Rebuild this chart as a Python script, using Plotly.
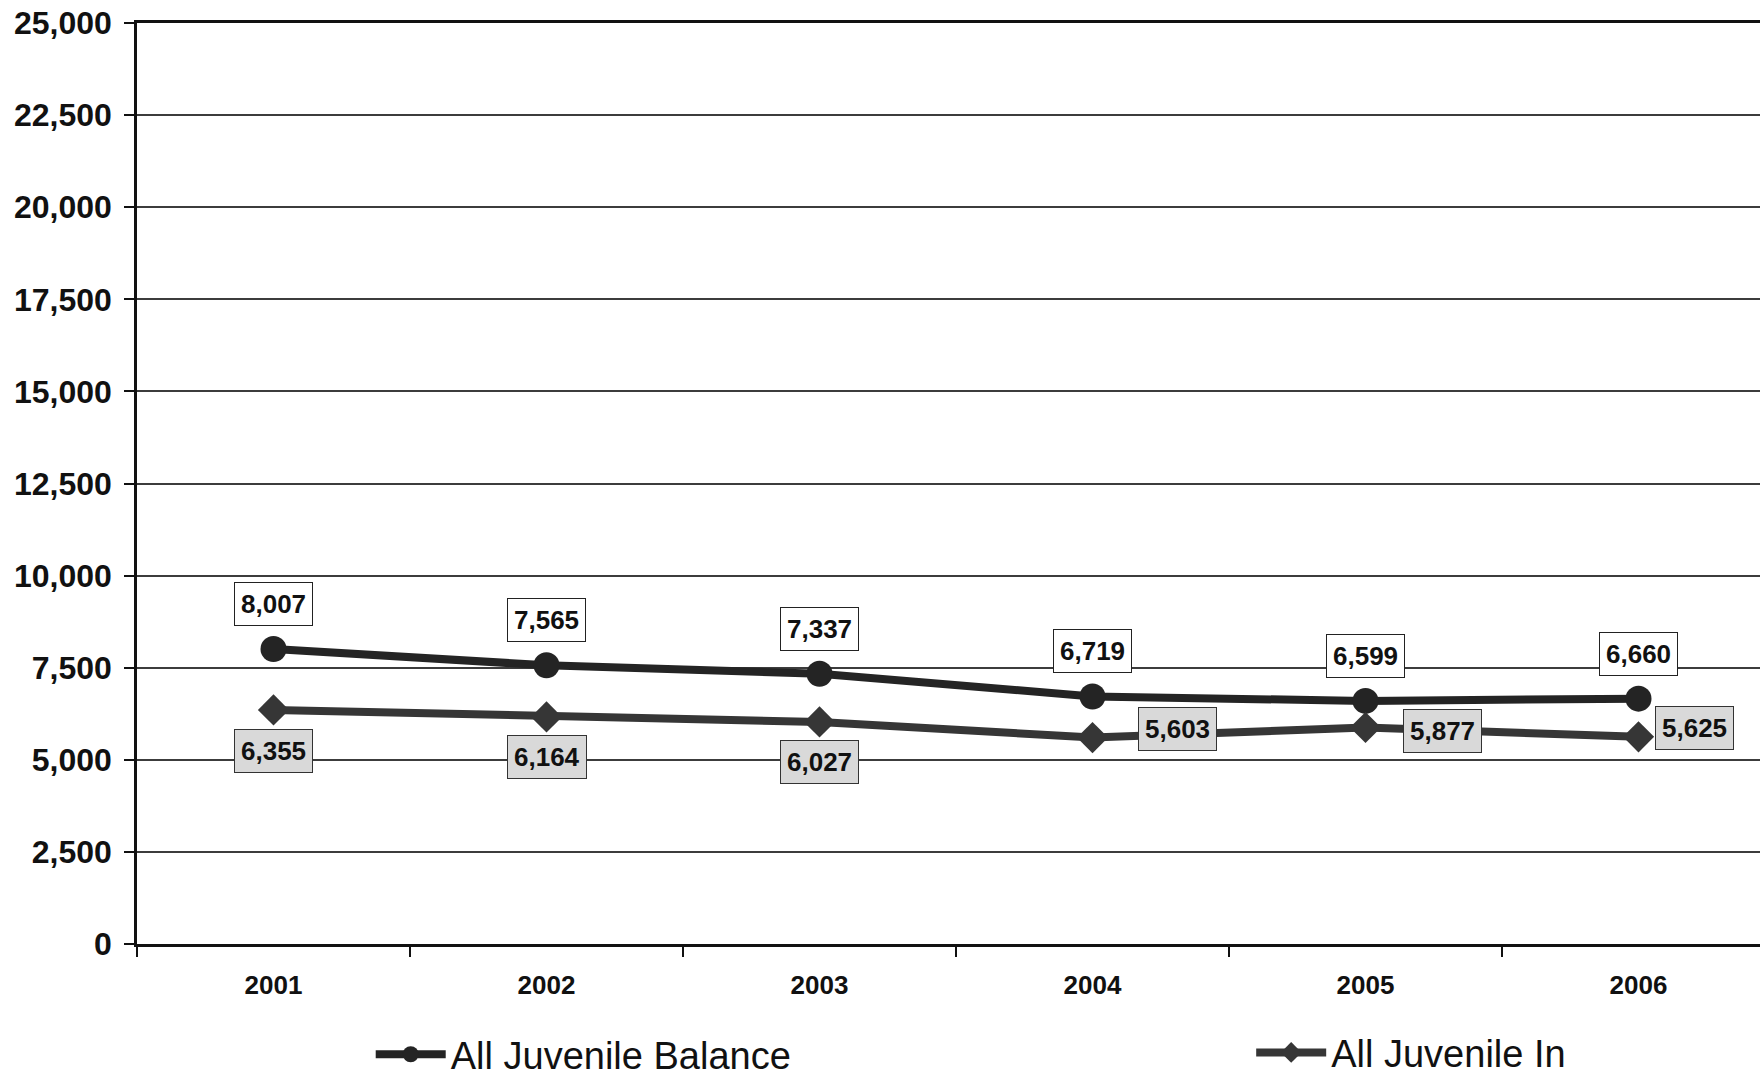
import plotly.graph_objects as go

# Yearly juvenile counts
years = ["2001", "2002", "2003", "2004", "2005", "2006"]
balance = [8007, 7565, 7337, 6719, 6599, 6660]
intake = [6355, 6164, 6027, 5603, 5877, 5625]

y_ticks = [0, 2500, 5000, 7500, 10000, 12500, 15000, 17500, 20000, 22500, 25000]

FONT = "Liberation Sans, Arial, sans-serif"
BAL_COLOR = "#242424"
IN_COLOR = "#363636"

fig = go.Figure()

fig.add_trace(go.Scatter(
    x=years, y=balance, name="All Juvenile Balance", mode="lines+markers",
    line=dict(color=BAL_COLOR, width=8),
    marker=dict(symbol="circle", size=26, color=BAL_COLOR),
    legend="legend",
))
fig.add_trace(go.Scatter(
    x=years, y=intake, name="All Juvenile In", mode="lines+markers",
    line=dict(color=IN_COLOR, width=8),
    marker=dict(symbol="diamond", size=24, color=IN_COLOR),
    legend="legend2",
))

label_font = dict(family=FONT, size=26, color="#111111")

# value boxes above the balance points (x given as category index)
for i, v in enumerate(balance):
    fig.add_annotation(
        x=i, y=v, xref="x", yref="y", text="<b>" + f"{v:,}" + "</b>",
        showarrow=False, yshift=45,
        font=label_font, bgcolor="#ffffff", bordercolor="#222222",
        borderwidth=1, borderpad=6,
    )

# value boxes for intake: below for the first years, to the right later
in_shifts = [(0, -41), (0, -40), (0, -40), (85, 9), (77, -4), (56, 9)]
for i, v in enumerate(intake):
    dx, dy = in_shifts[i]
    fig.add_annotation(
        x=i, y=v, xref="x", yref="y", text="<b>" + f"{v:,}" + "</b>",
        showarrow=False, xshift=dx, yshift=dy,
        font=label_font, bgcolor="#d9d9d9", bordercolor="#333333",
        borderwidth=1, borderpad=6,
    )

legend_font = dict(family=FONT, size=38, color="#111111")

fig.update_layout(
    width=1760, height=1078,
    margin=dict(l=137, r=0, t=23, b=134, autoexpand=False),
    paper_bgcolor="white", plot_bgcolor="white",
    font=dict(family=FONT, color="#111111"),
    showlegend=True,
    legend=dict(
        orientation="h", x=0.144, y=-0.120, xanchor="left", yanchor="middle",
        itemwidth=70,
        font=legend_font, bgcolor="rgba(0,0,0,0)",
    ),
    legend2=dict(
        orientation="h", x=0.6865, y=-0.118, xanchor="left", yanchor="middle",
        itemwidth=70,
        font=legend_font, bgcolor="rgba(0,0,0,0)",
    ),
)

fig.update_xaxes(
    type="category", range=[-0.5, 5.445],
    showgrid=False, showline=True, linecolor="#111111", linewidth=2.5,
    mirror=True,
    ticks="outside", tickson="boundaries", ticklen=10, tickwidth=2,
    tickcolor="#111111",
    tickfont=dict(family=FONT, size=26, color="#111111"),
    ticklabelstandoff=16,
    tickprefix="<b>", ticksuffix="</b>",
)

fig.update_yaxes(
    range=[0, 25000], tickvals=y_ticks,
    ticktext=[f"<b>{t:,}</b>" for t in y_ticks],
    showgrid=True, gridcolor="#3c3c3c", gridwidth=1.5,
    showline=True, linecolor="#111111", linewidth=2.5,
    ticks="outside", ticklen=10, tickwidth=2, tickcolor="#111111",
    tickfont=dict(family=FONT, size=32, color="#111111"),
    ticklabelstandoff=6,
    zeroline=False,
)

fig.write_html("out.html")
